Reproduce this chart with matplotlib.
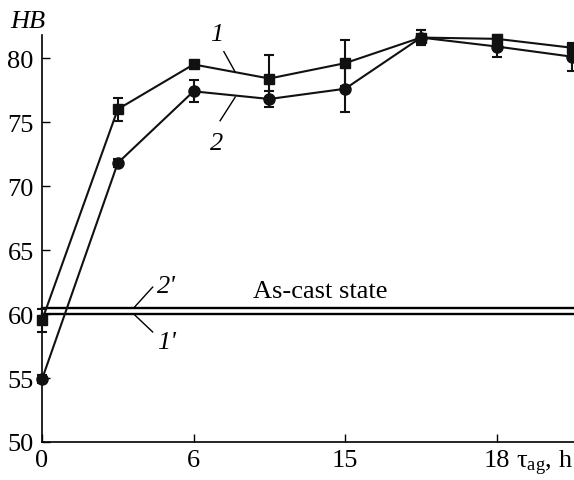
import matplotlib
matplotlib.use("Agg")
import matplotlib.pyplot as plt
import numpy as np

plt.rcParams['font.family'] = ['Liberation Serif', 'DejaVu Serif']
plt.rcParams['mathtext.fontset'] = 'custom'
plt.rcParams['mathtext.rm'] = 'Liberation Serif'
plt.rcParams['mathtext.it'] = 'Liberation Serif:italic'

# data (categorical positions, evenly spaced)
positions = [0, 1, 2, 3, 4, 5, 6, 7]
tick_positions = [0, 2, 4, 6]
tick_labels = ["0", "6", "15", "18"]

hb_1 = [59.5, 76.0, 79.5, 78.4, 79.6, 81.6, 81.5, 80.8]
err_1 = [0.9, 0.9, 0.2, 1.8, 1.8, 0.6, 0.3, 0.4]
hb_2 = [54.9, 71.8, 77.4, 76.8, 77.6, 81.6, 80.9, 80.1]
err_2 = [0.3, 0.3, 0.85, 0.65, 1.8, 0.6, 0.8, 1.1]

ascast_1 = 60.0
ascast_2 = 60.47

FS = 19

fig = plt.figure(figsize=(5.74, 4.81), dpi=100)
ax = fig.add_axes([42/574, 38/481, 532/574, 407/481])

ax.axhline(ascast_1, color='black', lw=1.7, zorder=1)
ax.axhline(ascast_2, color='black', lw=1.7, zorder=1)

ax.errorbar(positions, hb_1, yerr=err_1, fmt='-s', color='#111111', ms=7,
            lw=1.5, elinewidth=1.5, capsize=3.8, capthick=1.5, clip_on=False, zorder=3)
ax.errorbar(positions, hb_2, yerr=err_2, fmt='-o', color='#111111', ms=8,
            lw=1.5, elinewidth=1.5, capsize=3.8, capthick=1.5, clip_on=False, zorder=3)
for art in ax.get_children():
    try:
        art.set_clip_on(False)
    except Exception:
        pass

ax.set_xlim(0, 7.02)
ax.set_ylim(50, 81.8)
ax.set_yticks([50, 55, 60, 65, 70, 75, 80])
ax.set_xticks(tick_positions)
ax.set_xticklabels(tick_labels)
ax.tick_params(direction='in', length=6, width=1, labelsize=FS, pad=5)
ax.tick_params(axis='y', pad=6)
for s in ['top', 'right']:
    ax.spines[s].set_visible(False)
for s in ['left', 'bottom']:
    ax.spines[s].set_linewidth(1.2)

# labels
fig.text(10/574, 1 - 22/481, 'HB', fontsize=FS, style='italic', va='center', ha='left')
fig.text(516/574, 1 - 463/481, r'$\mathrm{\tau}_{\mathrm{ag}}$, h', fontsize=FS, va='center', ha='left')

# curve labels with leaders
lk = dict(color='black', lw=1.0, clip_on=False)
ax.plot([2.40, 2.55], [80.5, 78.9], **lk)
ax.text(2.31, 81.9, '1', fontsize=FS, style='italic', ha='center', va='center')
ax.plot([2.35, 2.55], [75.1, 76.95], **lk)
ax.text(2.31, 73.4, '2', fontsize=FS, style='italic', ha='center', va='center')
ax.plot([1.21, 1.46], [ascast_2, 62.1], **lk)
ax.text(1.52, 62.2, "2'", fontsize=FS, style='italic', ha='left', va='center')
ax.plot([1.21, 1.46], [ascast_1, 58.6], **lk)
ax.text(1.52, 57.8, "1'", fontsize=FS, style='italic', ha='left', va='center')
ax.text(3.67, 61.8, 'As-cast state', fontsize=FS, ha='center', va='center')

fig.savefig('out.png', dpi=100)
